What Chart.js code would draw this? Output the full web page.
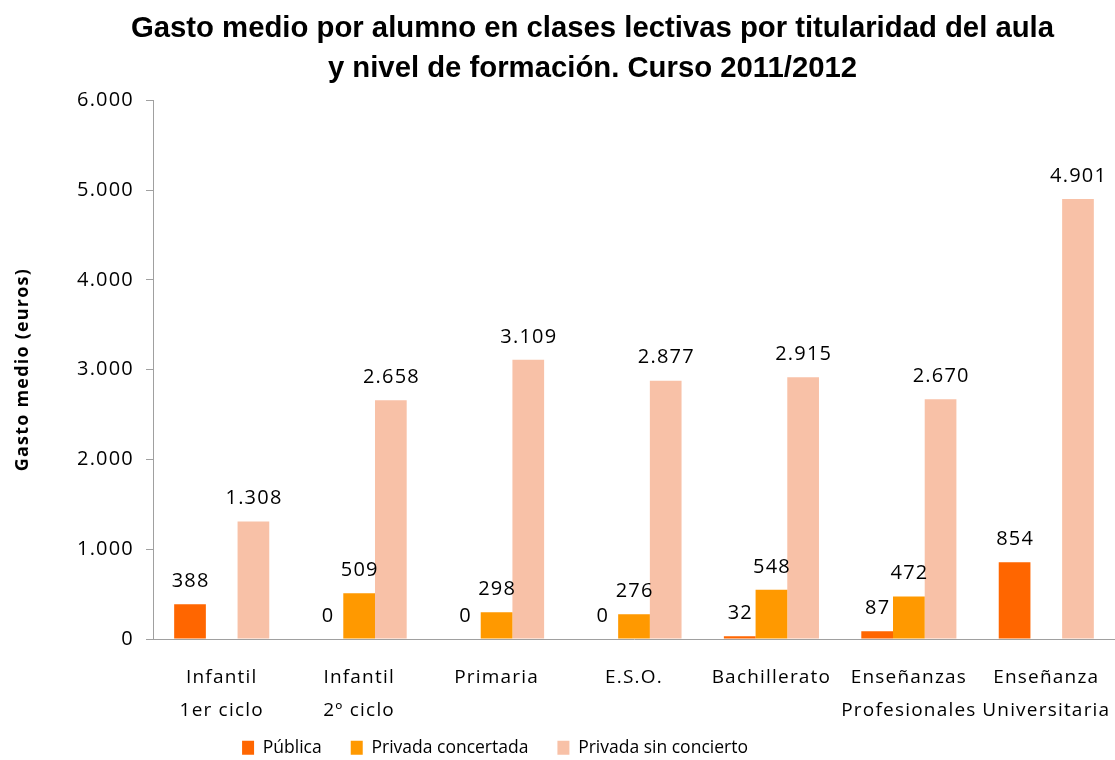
<!DOCTYPE html>
<html>
<head>
<meta charset="utf-8">
<script src="https://cdn.jsdelivr.net/npm/chart.js@4.4.1/dist/chart.umd.min.js"></script>
<style>
  html, body { margin: 0; padding: 0; background: #fff; }
  #wrap { width: 1115px; height: 760px; }
</style>
</head>
<body>
<div id="wrap"><canvas id="c" width="1115" height="760"></canvas></div>
<script>
const titleLines = ['Gasto medio por alumno en clases lectivas por titularidad del aula', 'y nivel de formación. Curso 2011/2012'];
const yAxisTitle = 'Gasto medio (euros)';
const categories = [
  ['Infantil', '1er ciclo'],
  ['Infantil', '2º ciclo'],
  'Primaria',
  'E.S.O.',
  'Bachillerato',
  ['Enseñanzas', 'Profesionales'],
  ['Enseñanza', 'Universitaria']
];
const seriesNames = ['Pública', 'Privada concertada', 'Privada sin concierto'];
const publica = [388, 0, 0, 0, 32, 87, 854];
const concertada = [null, 509, 298, 276, 548, 472, null];
const sinConcierto = [1308, 2658, 3109, 2877, 2915, 2670, 4901];
const yTicks = [0, 1000, 2000, 3000, 4000, 5000, 6000];

const colors = ['#FF6600', '#FF9900', '#F8C1A7'];
const textFont = '"Open Sans", "Noto Sans", sans-serif';
const SPACING = '1.2px';

function fmt(n) {
  return String(n).replace(/\B(?=(\d{3})+(?!\d))/g, '.');
}

function noSpacing(chart, box, method) {
  const key = '_ns_' + method;
  if (!box || box[key]) return;
  const orig = box[method].bind(box);
  box[method] = function (...args) {
    const c = chart.ctx;
    const prev = c.letterSpacing;
    c.letterSpacing = '0px';
    const r = orig(...args);
    c.letterSpacing = prev;
    return r;
  };
  box[key] = true;
}

const spacingPlugin = {
  id: 'spacing',
  beforeUpdate(chart) {
    chart.ctx.letterSpacing = SPACING;
    noSpacing(chart, chart.titleBlock, 'draw');
    noSpacing(chart, chart.legend, 'fit');
    noSpacing(chart, chart.legend, 'draw');
  },
  beforeLayout(chart) { chart.ctx.letterSpacing = SPACING; },
  beforeDraw(chart) { chart.ctx.letterSpacing = SPACING; },
  afterLayout(chart) {
    const tb = chart.titleBlock;
    if (tb) { tb.left += 35; tb.right += 35; }
    const lg = chart.legend;
    if (lg) {
      lg.right = 990;
      lg.width = lg.right - lg.left;
      lg.top = 710;
      lg.bottom = 790;
      lg.height = 80;
    }
  }
};

const labelPlugin = {
  id: 'valueLabels',
  afterDatasetsDraw(chart) {
    const ctx = chart.ctx;
    ctx.save();
    ctx.font = '20px ' + textFont;
    ctx.fillStyle = '#000';
    ctx.textAlign = 'center';
    ctx.textBaseline = 'middle';
    chart.data.datasets.forEach((ds, di) => {
      const meta = chart.getDatasetMeta(di);
      meta.data.forEach((el, i) => {
        const v = ds.data[i];
        if (v === null || v === undefined) return;
        ctx.fillText(fmt(v), el.x + 0.6, el.y - 23);
      });
    });
    ctx.restore();
  }
};

const series = [publica, concertada, sinConcierto];

new Chart(document.getElementById('c'), {
  type: 'bar',
  data: {
    labels: categories,
    datasets: series.map((d, i) => ({
      label: seriesNames[i],
      data: d,
      backgroundColor: colors[i],
      borderWidth: 0,
      categoryPercentage: 0.692,
      barPercentage: 1.0
    }))
  },
  options: {
    responsive: false,
    animation: false,
    devicePixelRatio: 1,
    layout: { padding: { left: 0, right: 0, top: 0, bottom: 0 } },
    plugins: {
      title: {
        display: true,
        text: titleLines,
        color: '#000',
        font: { family: '"Liberation Sans", Arial, sans-serif', size: 29.3, weight: 'bold', lineHeight: 1.37 },
        padding: { top: 9, bottom: 11 }
      },
      legend: {
        position: 'bottom',
        maxHeight: 33,
        labels: {
          color: '#000',
          font: { family: textFont, size: 17.5 },
          boxWidth: 12,
          boxHeight: 14,
          padding: 29
        }
      },
      tooltip: { enabled: false }
    },
    scales: {
      x: {
        grid: { display: true, drawOnChartArea: false, drawTicks: false },
        border: { display: true, color: '#A0A0A0', width: 1 },
        ticks: {
          color: '#000',
          font: { family: textFont, size: 19, lineHeight: 1.74 },
          padding: 22.5,
          maxRotation: 0,
          minRotation: 0,
          autoSkip: false
        },
        afterFit(scale) {
          scale.height = 88;
          scale.paddingLeft = 0;
          scale.paddingRight = 0;
        }
      },
      y: {
        min: 0,
        max: 6000,
        afterBuildTicks(scale) { scale.ticks = yTicks.map(v => ({ value: v })); },
        grid: { display: true, drawOnChartArea: false, drawTicks: true, tickLength: 7, color: '#A0A0A0' },
        border: { display: true, color: '#A0A0A0', width: 1 },
        ticks: {
          color: '#000',
          font: { family: textFont, size: 20 },
          padding: 12,
          callback: (v) => fmt(v)
        },
        title: {
          display: true,
          text: yAxisTitle,
          color: '#000',
          font: { family: textFont, size: 18, weight: 'bold' },
          padding: { top: 12, bottom: 0 }
        },
        afterFit(scale) { scale.width = 153; }
      }
    }
  },
  plugins: [spacingPlugin, labelPlugin]
});
</script>
</body>
</html>
